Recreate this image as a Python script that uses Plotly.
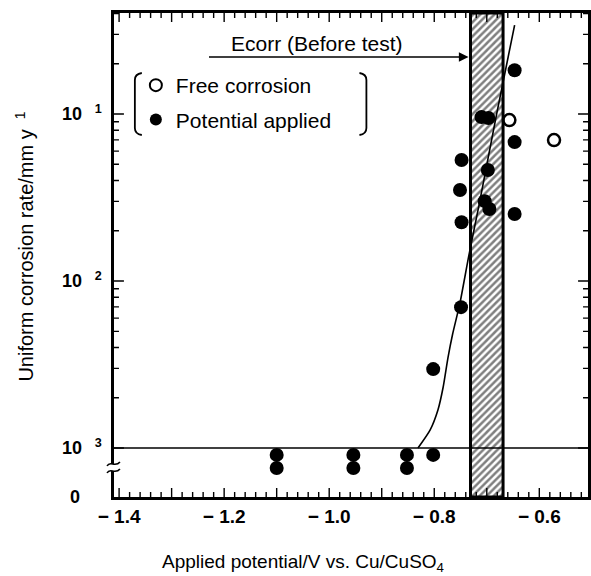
import math
import plotly.graph_objects as go

# ---------------- data ----------------
applied_x = [-0.710, -0.697, -0.647, -0.748, -0.698, -0.751, -0.704, -0.695,
             -0.647, -0.748, -0.749, -0.647, -0.802]
applied_y = [0.0959, 0.0946, 0.0679, 0.0531, 0.0462, 0.0351, 0.0301, 0.0270,
             0.0252, 0.0225, 0.00698, 0.183, 0.00297]

# specimens with (practically) zero corrosion, drawn inside the axis break
zero_x = [-1.10, -1.10, -0.954, -0.954, -0.852, -0.852, -0.802]
zero_y = [9.1e-4, 7.6e-4, 9.1e-4, 7.6e-4, 9.1e-4, 7.6e-4, 9.1e-4]

free_x = [-0.657, -0.572]
free_y = [0.0920, 0.0698]

curve_x = [-0.831, -0.808, -0.793, -0.783, -0.774, -0.765, -0.751, -0.734,
           -0.714, -0.681, -0.647]
curve_y = [1.0e-3, 1.28e-3, 1.69e-3, 2.32e-3, 3.46e-3, 4.82e-3, 7.4e-3,
           0.0143, 0.0293, 0.101, 0.341]

ecorr_band = [-0.731, -0.669]
threshold = 1e-3

x_ticks = [-1.4, -1.3, -1.2, -1.1, -1.0, -0.9, -0.8, -0.7, -0.6]
x_labels = ["<b>\u2212 1.4</b>", " ", "<b>\u2212 1.2</b>", " ", "<b>\u2212 1.0</b>", " ",
            "<b>\u2212 0.8</b>", " ", "<b>\u2212 0.6</b>"]
x_range = [-1.4097, -0.5073]
x_minor = [round(-1.4 + 0.02 * i, 2) for i in range(0, 45) if i % 5 != 0]

y_log_range = [-3.293, -0.395]
y_major = [1e-3, 1e-2, 1e-1]
y_ticks = y_major + [10 ** y_log_range[0]]
y_labels = ["<b>10\u2002\u2009<sup>3</sup></b>", "<b>10\u2002\u2009<sup>2</sup></b>",
            "<b>10\u2002\u2009<sup>1</sup></b>", "<b>0\u2003\u2009</b>"]
y_minor = [m * 10 ** e for e in (-3, -2, -1) for m in range(2, 10)
           if m * 10 ** e < 10 ** y_log_range[1]]

# ---------------- layout geometry (pixels) ----------------
W, H = 591, 576
L, R, T, B = 114, 591, 13, 497


def px(xp):
    return (xp - L) / (R - L)


def py(yp):
    return (B - yp) / (B - T)


def xfrac(v):
    return (v - x_range[0]) / (x_range[1] - x_range[0])


def yfrac(v):
    return (math.log10(v) - y_log_range[0]) / (y_log_range[1] - y_log_range[0])


FONT = "Liberation Sans, Arial, Helvetica, sans-serif"

fig = go.Figure()

# hatched Ecorr band
ybot, ytop = 10 ** y_log_range[0], 10 ** y_log_range[1]
fig.add_trace(go.Scatter(
    x=[ecorr_band[0], ecorr_band[1], ecorr_band[1], ecorr_band[0], ecorr_band[0]],
    y=[ybot, ybot, ytop, ytop, ybot],
    mode="lines", fill="toself", fillcolor="white",
    fillpattern=dict(shape="/", fgcolor="black", bgcolor="white", size=5, solidity=0.5),
    line=dict(color="black", width=3), showlegend=False, hoverinfo="skip"))

# threshold line at 10^-3
fig.add_trace(go.Scatter(x=x_range, y=[threshold, threshold], mode="lines",
                         line=dict(color="black", width=1.5), showlegend=False,
                         hoverinfo="skip"))

# fitted curve
fig.add_trace(go.Scatter(x=curve_x, y=curve_y, mode="lines",
                         line=dict(color="black", width=1.6, shape="spline", smoothing=0.6),
                         showlegend=False, hoverinfo="skip"))

fig.add_trace(go.Scatter(x=free_x, y=free_y, mode="markers", name="Free corrosion",
                         marker=dict(symbol="circle-open", size=12, color="black",
                                     line=dict(width=2.5)),
                         legendgroup="a"))
fig.add_trace(go.Scatter(x=applied_x + zero_x, y=applied_y + zero_y, mode="markers",
                         name="Potential applied",
                         marker=dict(symbol="circle", size=14, color="black"),
                         legendgroup="b"))

fig.update_layout(
    width=W, height=H,
    margin=dict(l=L, r=W - R, t=T, b=H - B),
    paper_bgcolor="white", plot_bgcolor="white",
    font=dict(family=FONT, color="black", size=20),
    showlegend=True,
    legend=dict(x=px(136), y=py(65), xanchor="left", yanchor="top",
                bgcolor="rgba(0,0,0,0)", borderwidth=0,
                font=dict(size=21, family=FONT), tracegroupgap=4,
                itemsizing="constant", traceorder="grouped"),
    xaxis=dict(range=x_range, tickmode="array", tickvals=x_ticks, ticktext=x_labels,
               ticks="", showline=True, linecolor="black", linewidth=2.5, mirror=True,
               showgrid=False, zeroline=False,
               tickfont=dict(size=19, family=FONT)),
    yaxis=dict(type="log", range=y_log_range, tickmode="array", tickvals=y_ticks,
               ticktext=y_labels, ticks="", showline=True, linecolor="black",
               linewidth=2.5, mirror=True, showgrid=False, zeroline=False,
               ticklabelstandoff=6,
               tickfont=dict(size=18, family=FONT)),
)

# ---- inside tick marks on all four sides, as one paper-referenced path ----
pw, ph = R - L, B - T
segs = []
for xv in x_ticks + x_minor:
    ln = (9 if xv in x_ticks else 5) / ph
    xf = xfrac(xv)
    if 0 < xf < 1:
        segs.append(f"M {xf:.5f},0 L {xf:.5f},{ln:.5f}")
        segs.append(f"M {xf:.5f},1 L {xf:.5f},{1 - ln:.5f}")
for yv in y_major + y_minor:
    ln = (10 if yv in y_major else 5) / pw
    yf = yfrac(yv)
    segs.append(f"M 0,{yf:.5f} L {ln:.5f},{yf:.5f}")
    segs.append(f"M 1,{yf:.5f} L {1 - ln:.5f},{yf:.5f}")
fig.add_shape(type="path", xref="paper", yref="paper", path=" ".join(segs),
              line=dict(color="black", width=1.4))

# axis titles
fig.add_annotation(text="Applied potential/V vs. Cu/CuSO<sub>4</sub>", xref="paper", yref="paper",
                   x=px(304), y=py(563), xanchor="center", yanchor="middle", showarrow=False,
                   font=dict(size=19, family=FONT))
fig.add_annotation(text="Uniform corrosion rate/mm y\u2002<sup>1</sup>", xref="paper", yref="paper",
                   x=px(23), y=py(247), xanchor="center", yanchor="middle", textangle=-90,
                   showarrow=False, font=dict(size=20, family=FONT))

# Ecorr arrow and label
fig.add_annotation(x=ecorr_band[0], y=py(57), xref="x", yref="paper",
                   ax=-(470 - 207), ay=0, axref="pixel", ayref="pixel",
                   text="", showarrow=True, arrowhead=2, arrowsize=1.2, arrowwidth=1.6,
                   arrowcolor="black", standoff=2)
fig.add_annotation(text="Ecorr (Before test)", xref="paper", yref="paper",
                   x=px(318), y=py(43), xanchor="center", yanchor="middle", showarrow=False,
                   font=dict(size=21, family=FONT))


# legend brackets
def bracket(x_edge, x_hook, y0, y1):
    return (f"M {px(x_hook)},{py(y0)} Q {px(x_edge)},{py(y0 + 1)} {px(x_edge)},{py(y0 + 7)} "
            f"L {px(x_edge)},{py(y1 - 7)} Q {px(x_edge)},{py(y1 - 1)} {px(x_hook)},{py(y1)}")


for xe, xh in ((135, 142), (368, 361)):
    fig.add_shape(type="path", xref="paper", yref="paper", path=bracket(xe, xh, 73, 135),
                  line=dict(color="black", width=1.8))

# axis break on the left axis
fig.add_shape(type="rect", xref="paper", yref="paper", x0=px(110), x1=px(118),
              y0=py(471), y1=py(464), fillcolor="white", line=dict(width=0), layer="above")
for yb in (465, 472):
    fig.add_shape(type="path", xref="paper", yref="paper",
                  path=(f"M {px(107)},{py(yb + 1)} C {px(110)},{py(yb - 5)} "
                        f"{px(115)},{py(yb + 3)} {px(120)},{py(yb - 3)}"),
                  line=dict(color="black", width=1.6))

fig.write_html("out.html")
